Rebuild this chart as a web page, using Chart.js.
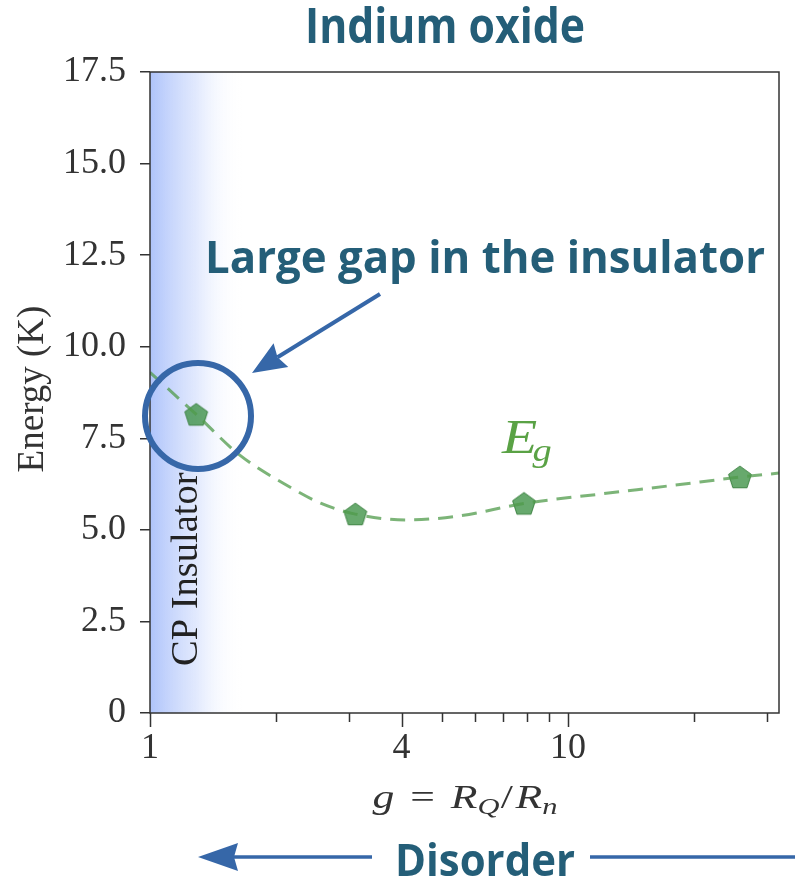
<!DOCTYPE html>
<html>
<head>
<meta charset="utf-8">
<script src="https://cdn.jsdelivr.net/npm/chart.js@4/dist/chart.umd.min.js"></script>
<style>
  html, body { margin: 0; padding: 0; background: #fff; }
  #wrap { width: 795px; height: 879px; }
</style>
</head>
<body>
<div id="wrap"><canvas id="gapChart" width="795" height="879"></canvas></div>
<script>
// measured gaps (pentagon markers)
const gValues = [1.29, 3.1, 7.85, 25.8];
const gapValues = [8.15, 5.43, 5.72, 6.44];

// dashed guide curve
const curveG = [1, 1.29, 1.64, 2.16, 2.56, 3.1, 4.1, 5.5, 7.85, 12, 18, 25.8, 32];
const curveE = [9.3, 8.15, 7.04, 6.17, 5.73, 5.43, 5.27, 5.38, 5.72, 5.98, 6.22, 6.44, 6.55];

const xTickValues = [1, 2, 3, 4, 5, 6, 7, 8, 9, 10, 20, 30];
const xTickLabels = [1, 4, 10];
const bandEnd = 1.66; // where the CP insulator shading fades out

const serif = '"Liberation Serif", "DejaVu Serif", serif';
const sans = '"Open Sans", sans-serif';
const titleBlue = '#245e78';
const arrowBlue = '#3667a8';

// pentagon marker as an image
function makePentagon(r) {
  const c = document.createElement('canvas');
  const s = r * 2 + 4;
  c.width = s; c.height = s;
  const cx = c.getContext('2d');
  cx.beginPath();
  for (let i = 0; i < 5; i++) {
    const a = -Math.PI / 2 + i * 2 * Math.PI / 5;
    const px = s / 2 + r * Math.cos(a), py = s / 2 + r * Math.sin(a) + 1;
    if (i === 0) cx.moveTo(px, py); else cx.lineTo(px, py);
  }
  cx.closePath();
  cx.fillStyle = 'rgba(52,140,60,0.75)';
  cx.fill();
  cx.strokeStyle = 'rgba(40,115,45,0.8)';
  cx.lineWidth = 1;
  cx.stroke();
  return c;
}

// rotated text helper (reads bottom to top)
function vText(ctx, text, x, y, font, stretch) {
  ctx.save();
  ctx.translate(x, y);
  ctx.rotate(-Math.PI / 2);
  ctx.scale(stretch, 1);
  ctx.font = font;
  ctx.fillText(text, 0, 0);
  ctx.restore();
}

const decorPlugin = {
  id: 'decor',
  beforeDatasetsDraw(chart) {
    const {ctx, chartArea} = chart;
    const xs = chart.scales.x;
    const x0 = xs.getPixelForValue(1);
    const x1 = xs.getPixelForValue(bandEnd);
    ctx.save();
    const grad = ctx.createLinearGradient(x0, 0, x1, 0);
    grad.addColorStop(0, 'rgba(160,185,250,0.85)');
    grad.addColorStop(0.5, 'rgba(205,218,252,0.6)');
    grad.addColorStop(1, 'rgba(255,255,255,0)');
    ctx.fillStyle = grad;
    ctx.fillRect(x0, chartArea.top, x1 - x0, chartArea.bottom - chartArea.top);

    ctx.fillStyle = '#222';
    ctx.textAlign = 'left';
    ctx.textBaseline = 'alphabetic';
    vText(ctx, 'CP Insulator', 197, 666, '37px ' + serif, 1.04);
    ctx.restore();
  },
  afterDraw(chart) {
    const {ctx, chartArea} = chart;
    const xs = chart.scales.x;
    ctx.save();
    // frame
    ctx.strokeStyle = '#333';
    ctx.lineWidth = 1.5;
    ctx.strokeRect(chartArea.left, chartArea.top, chartArea.right - chartArea.left, chartArea.bottom - chartArea.top);

    // x tick marks, longer for labelled ones
    ctx.beginPath();
    xTickValues.forEach(v => {
      const px = Math.round(xs.getPixelForValue(v)) + 0.5;
      const len = xTickLabels.includes(v) ? 14 : 9;
      ctx.moveTo(px, chartArea.bottom);
      ctx.lineTo(px, chartArea.bottom + len);
    });
    ctx.stroke();

    // y axis title
    ctx.fillStyle = '#333';
    ctx.textAlign = 'center';
    ctx.textBaseline = 'alphabetic';
    vText(ctx, 'Energy (K)', 43, 389, '37px ' + serif, 1.0);

    // x axis title: g = R_Q / R_n  (font, text, baseline shift, gap after)
    ctx.textAlign = 'left';
    const parts = [
      ['italic 33px ' + serif, 'g', 0, 12],
      ['33px ' + serif, '=', 0, 12],
      ['italic 33px ' + serif, 'R', 0, 0],
      ['italic 23px ' + serif, 'Q', 6, 1],
      ['33px ' + serif, '/', 0, 2],
      ['italic 33px ' + serif, 'R', 0, 0],
      ['italic 23px ' + serif, 'n', 6, 0]
    ];
    let total = 0;
    parts.forEach(p => { ctx.font = p[0]; total += ctx.measureText(p[1]).width + p[3]; });
    const targetW = 185;
    ctx.save();
    ctx.translate(465 - targetW / 2, 808);
    ctx.scale(targetW / total, 1);
    let cx = 0;
    parts.forEach(p => {
      ctx.font = p[0];
      ctx.fillText(p[1], cx, p[2]);
      cx += ctx.measureText(p[1]).width + p[3];
    });
    ctx.restore();

    // E_g label
    ctx.fillStyle = '#5aa245';
    ctx.save();
    ctx.translate(502, 453);
    ctx.scale(1.2, 1);
    ctx.font = 'italic 48px ' + serif;
    ctx.fillText('E', 0, 0);
    const ew = ctx.measureText('E').width;
    ctx.font = 'italic 32px ' + serif;
    ctx.fillText('g', ew - 4, 8);
    ctx.restore();

    // title and annotations
    ctx.fillStyle = titleBlue;
    ctx.textAlign = 'center';
    ctx.font = 'bold 48px ' + sans;
    ctx.fillText('Indium oxide', 445, 43, 280);
    ctx.font = 'bold 44px ' + sans;
    ctx.fillText('Large gap in the insulator', 485, 273, 560);
    ctx.fillText('Disorder', 485, 876, 180);

    // circle round the first point
    ctx.strokeStyle = arrowBlue;
    ctx.lineWidth = 6;
    ctx.beginPath();
    ctx.arc(198, 416, 53, 0, Math.PI * 2);
    ctx.stroke();

    function arrow(xa, ya, xb, yb, headLen, headW, lw) {
      const ang = Math.atan2(yb - ya, xb - xa);
      const bx = xb - headLen * Math.cos(ang), by = yb - headLen * Math.sin(ang);
      ctx.lineWidth = lw;
      ctx.beginPath();
      ctx.moveTo(xa, ya);
      ctx.lineTo(bx + 4 * Math.cos(ang), by + 4 * Math.sin(ang));
      ctx.stroke();
      ctx.beginPath();
      ctx.moveTo(xb, yb);
      ctx.lineTo(bx + headW * Math.sin(ang), by - headW * Math.cos(ang));
      ctx.lineTo(bx + 4 * Math.cos(ang), by + 4 * Math.sin(ang));
      ctx.lineTo(bx - headW * Math.sin(ang), by + headW * Math.cos(ang));
      ctx.closePath();
      ctx.fill();
    }
    ctx.fillStyle = arrowBlue;
    arrow(380, 294, 252, 373, 34, 14, 4);

    // disorder arrow
    arrow(372, 857, 198, 857, 40, 14, 3.5);
    ctx.lineWidth = 3.5;
    ctx.beginPath();
    ctx.moveTo(590, 857);
    ctx.lineTo(795, 857);
    ctx.stroke();
    ctx.restore();
  }
};

new Chart(document.getElementById('gapChart'), {
  type: 'scatter',
  data: {
    datasets: [
      {
        label: 'measured',
        data: gValues.map((g, i) => ({x: g, y: gapValues[i]})),
        pointStyle: makePentagon(12),
        pointRadius: 12,
        order: 2
      },
      {
        label: 'E_g',
        data: curveG.map((g, i) => ({x: g, y: curveE[i]})),
        showLine: true,
        borderColor: 'rgba(80,155,75,0.75)',
        borderWidth: 3,
        borderDash: [15, 9],
        pointRadius: 0,
        cubicInterpolationMode: 'monotone',
        order: 1
      }
    ]
  },
  options: {
    responsive: false,
    animation: false,
    events: [],
    layout: { padding: { left: 0, right: 16, top: 72, bottom: 0 } },
    plugins: {
      legend: { display: false },
      tooltip: { enabled: false }
    },
    scales: {
      x: {
        type: 'logarithmic',
        min: 1,
        max: 32,
        afterBuildTicks(scale) {
          scale.ticks = xTickValues.map(v => ({value: v}));
        },
        afterFit(scale) { scale.height = 166; },
        border: { display: false },
        grid: { display: false, tickLength: 8 },
        ticks: {
          autoSkip: false,
          maxRotation: 0,
          padding: 6,
          color: '#333',
          font: { family: serif, size: 36 },
          callback: v => xTickLabels.includes(v) ? String(v) : ''
        }
      },
      y: {
        min: 0,
        max: 17.5,
        afterFit(scale) { scale.width = 150; },
        border: { display: false },
        grid: { drawOnChartArea: false, tickLength: 10, color: '#333', lineWidth: 1.5 },
        ticks: {
          stepSize: 2.5,
          padding: 14,
          color: '#333',
          font: { family: serif, size: 36 },
          callback: v => v === 0 ? '0' : v.toFixed(1)
        }
      }
    }
  },
  plugins: [decorPlugin]
});
</script>
</body>
</html>
